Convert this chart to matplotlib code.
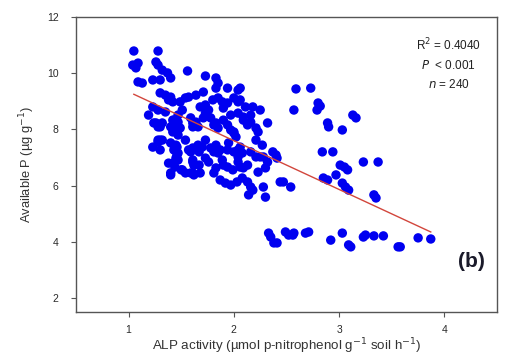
import matplotlib
matplotlib.use("Agg")
import matplotlib.pyplot as plt

alp = [
    1.05, 1.28, 1.09, 1.07, 1.26, 1.28, 1.32, 1.37, 1.40, 1.23, 1.09, 1.13, 1.56, 1.73, 1.83, 1.85,
    1.94, 2.04, 1.83, 1.71, 1.30, 1.35, 1.40, 1.38, 1.42, 1.54, 1.57, 1.49, 1.68, 1.73, 1.80, 1.85,
    1.89, 1.94, 1.90, 2.00, 2.04, 2.11, 1.23, 1.28, 1.35, 1.19, 1.51, 1.47, 1.24, 1.28, 1.32, 1.42,
    1.45, 1.59, 1.61, 1.66, 1.73, 1.71, 1.78, 1.83, 1.85, 1.90, 1.94, 1.97, 2.00, 2.04, 2.09, 2.13,
    1.47, 1.47, 1.40, 1.42, 1.30, 1.28, 1.23, 1.40, 1.45, 1.43, 1.47, 1.45, 1.42, 1.57, 1.61, 1.66,
    1.70, 1.67, 1.78, 1.81, 1.85, 1.87, 1.94, 2.00, 2.04, 2.08, 1.61, 1.62, 1.73, 1.76, 1.89, 1.90,
    1.94, 2.04, 2.06, 2.09, 1.40, 1.51, 1.54, 1.59, 1.62, 1.68, 1.81, 2.08,
    1.87, 1.92, 1.97, 2.03, 2.13, 2.16, 2.18, 2.28, 2.30, 2.14, 2.23, 2.44, 2.47, 2.54, 2.16, 2.21,
    2.25, 2.37, 2.28, 2.32, 2.30, 2.40, 2.41, 2.13, 2.06, 2.04, 2.21, 2.23, 2.02, 2.00, 2.18, 2.06,
    2.06, 2.32, 2.09, 2.16, 1.81, 1.61, 1.64, 1.26, 1.30, 1.43, 1.47, 1.49, 1.28, 1.32, 1.46, 1.46,
    1.47, 1.44, 1.38, 1.40, 1.50, 1.59, 1.61, 1.61,
    2.59, 2.73, 2.57, 2.80, 2.82, 2.79, 3.13, 3.16, 2.89, 2.90, 3.03, 2.84, 2.94, 3.01, 3.05, 3.08,
    2.97, 2.85, 2.89, 3.23, 3.37, 3.03, 3.06, 3.09, 3.33, 3.35,
    2.33, 2.35, 2.38, 2.41, 2.49, 2.52, 2.56, 2.57, 2.68, 2.71, 2.92, 3.03, 3.09, 3.11, 3.23, 3.25,
    3.33, 3.42, 3.56, 3.58, 3.75, 3.87,
    1.04, 1.30, 1.64, 1.76, 1.97, 1.54, 1.73, 1.83, 1.95, 1.67, 1.83, 1.99, 1.30, 2.21, 2.27, 2.16,
    2.25,
]

avail_p = [
    10.79, 10.79, 10.36, 10.19, 10.40, 10.29, 10.11, 10.01, 9.83, 9.76, 9.69, 9.65, 10.08, 9.90, 9.83, 9.65,
    9.47, 9.40, 9.47, 9.33, 9.30, 9.22, 9.15, 9.05, 8.98, 9.12, 9.15, 8.98, 8.80, 8.87, 9.05, 9.12,
    8.98, 8.94, 8.76, 9.12, 8.98, 8.80, 8.80, 8.69, 8.62, 8.51, 8.69, 8.51, 8.23, 8.09, 8.23, 8.33,
    8.23, 8.41, 8.23, 8.09, 8.58, 8.41, 8.41, 8.23, 8.05, 8.33, 8.16, 7.98, 7.87, 8.58, 8.33, 8.16,
    7.98, 7.80, 8.09, 7.91, 7.62, 7.55, 7.37, 7.52, 7.44, 7.27, 7.16, 6.98, 6.80, 7.27, 7.34, 7.44,
    7.37, 7.20, 7.34, 7.20, 7.16, 7.27, 7.27, 7.20, 7.02, 7.16, 6.91, 6.73, 6.98, 6.84, 6.91, 6.73,
    6.66, 6.84, 6.66, 6.63, 6.45, 6.56, 6.45, 6.45, 6.38, 6.45, 6.45, 6.27,
    6.20, 6.09, 6.02, 6.13, 6.13, 5.95, 5.84, 5.95, 5.59, 5.67, 6.48, 6.13, 6.13, 5.95, 7.20, 7.02,
    7.02, 7.20, 7.02, 6.84, 6.63, 7.09, 6.98, 6.73, 7.37, 7.27, 8.05, 7.91, 7.73, 7.91, 8.80, 9.05,
    9.47, 8.23, 8.44, 8.26, 8.16, 8.09, 8.26, 8.23, 8.09, 8.33, 8.26, 8.05, 7.62, 7.62, 7.37, 7.09,
    6.91, 6.66, 6.80, 6.38, 6.56, 7.20, 6.84, 6.45,
    9.44, 9.47, 8.69, 8.94, 8.83, 8.69, 8.51, 8.41, 8.23, 8.09, 7.98, 7.20, 7.20, 6.73, 6.66, 6.56,
    6.38, 6.27, 6.20, 6.84, 6.84, 6.09, 5.95, 5.84, 5.67, 5.56,
    4.31, 4.17, 3.96, 3.96, 4.35, 4.24, 4.24, 4.31, 4.31, 4.35, 4.06, 4.31, 3.89, 3.82, 4.17, 4.24,
    4.21, 4.21, 3.82, 3.82, 4.14, 4.10,
    10.29, 9.76, 9.22, 8.69, 8.51, 7.62, 7.62, 7.44, 7.52, 6.73, 6.63, 6.56, 7.27, 7.62, 7.44, 8.51,
    8.69,
]

fit_x = [1.05, 3.87]
fit_y = [9.25, 4.35]

x_ticks = [1, 2, 3, 4]
y_ticks = [2, 4, 6, 8, 10, 12]

plt.rcParams['font.family'] = ['Liberation Sans', 'DejaVu Sans']

fig = plt.figure(figsize=(5.13, 3.62), dpi=100)
ax = fig.add_axes([0.148, 0.138, 0.821, 0.815])

ax.scatter(alp, avail_p, s=46, color='#0000f0', edgecolors='none', zorder=2)
ax.plot(fit_x, fit_y, color='#d2463c', lw=1.0, zorder=3)

ax.set_xlim(0.5, 4.5)
ax.set_ylim(1.5, 12)
ax.set_xticks(x_ticks)
ax.set_yticks(y_ticks)
ax.tick_params(axis='both', direction='out', length=3.5, width=0.8, color='#555555',
               labelsize=7.5, labelcolor='#2a2a2a', pad=6)
ax.tick_params(axis='y', pad=9)

for sp in ax.spines.values():
    sp.set_color('#555555')
    sp.set_linewidth(1.0)

ax.set_xlabel('ALP activity (µmol p-nitrophenol g$^{-1}$ soil h$^{-1}$)', fontsize=9.6,
              color='#333333', labelpad=1)
ax.set_ylabel('Available P (µg g$^{-1}$)', fontsize=9.3, color='#333333', labelpad=7)

ax.text(0.885, 0.905, 'R$^2$ = 0.4040', transform=ax.transAxes, ha='center', va='center',
        fontsize=8.5, color='#222222')
ax.text(0.885, 0.835, '$\\it{P}$  < 0.001', transform=ax.transAxes, ha='center', va='center',
        fontsize=8.5, color='#222222')
ax.text(0.885, 0.77, '$\\it{n}$ = 240', transform=ax.transAxes, ha='center', va='center',
        fontsize=8.5, color='#222222')
ax.text(0.938, 0.173, '(b)', transform=ax.transAxes, ha='center', va='center',
        fontsize=15, fontweight='bold', color='#1a1a2a')

fig.savefig('out.png', dpi=100)
